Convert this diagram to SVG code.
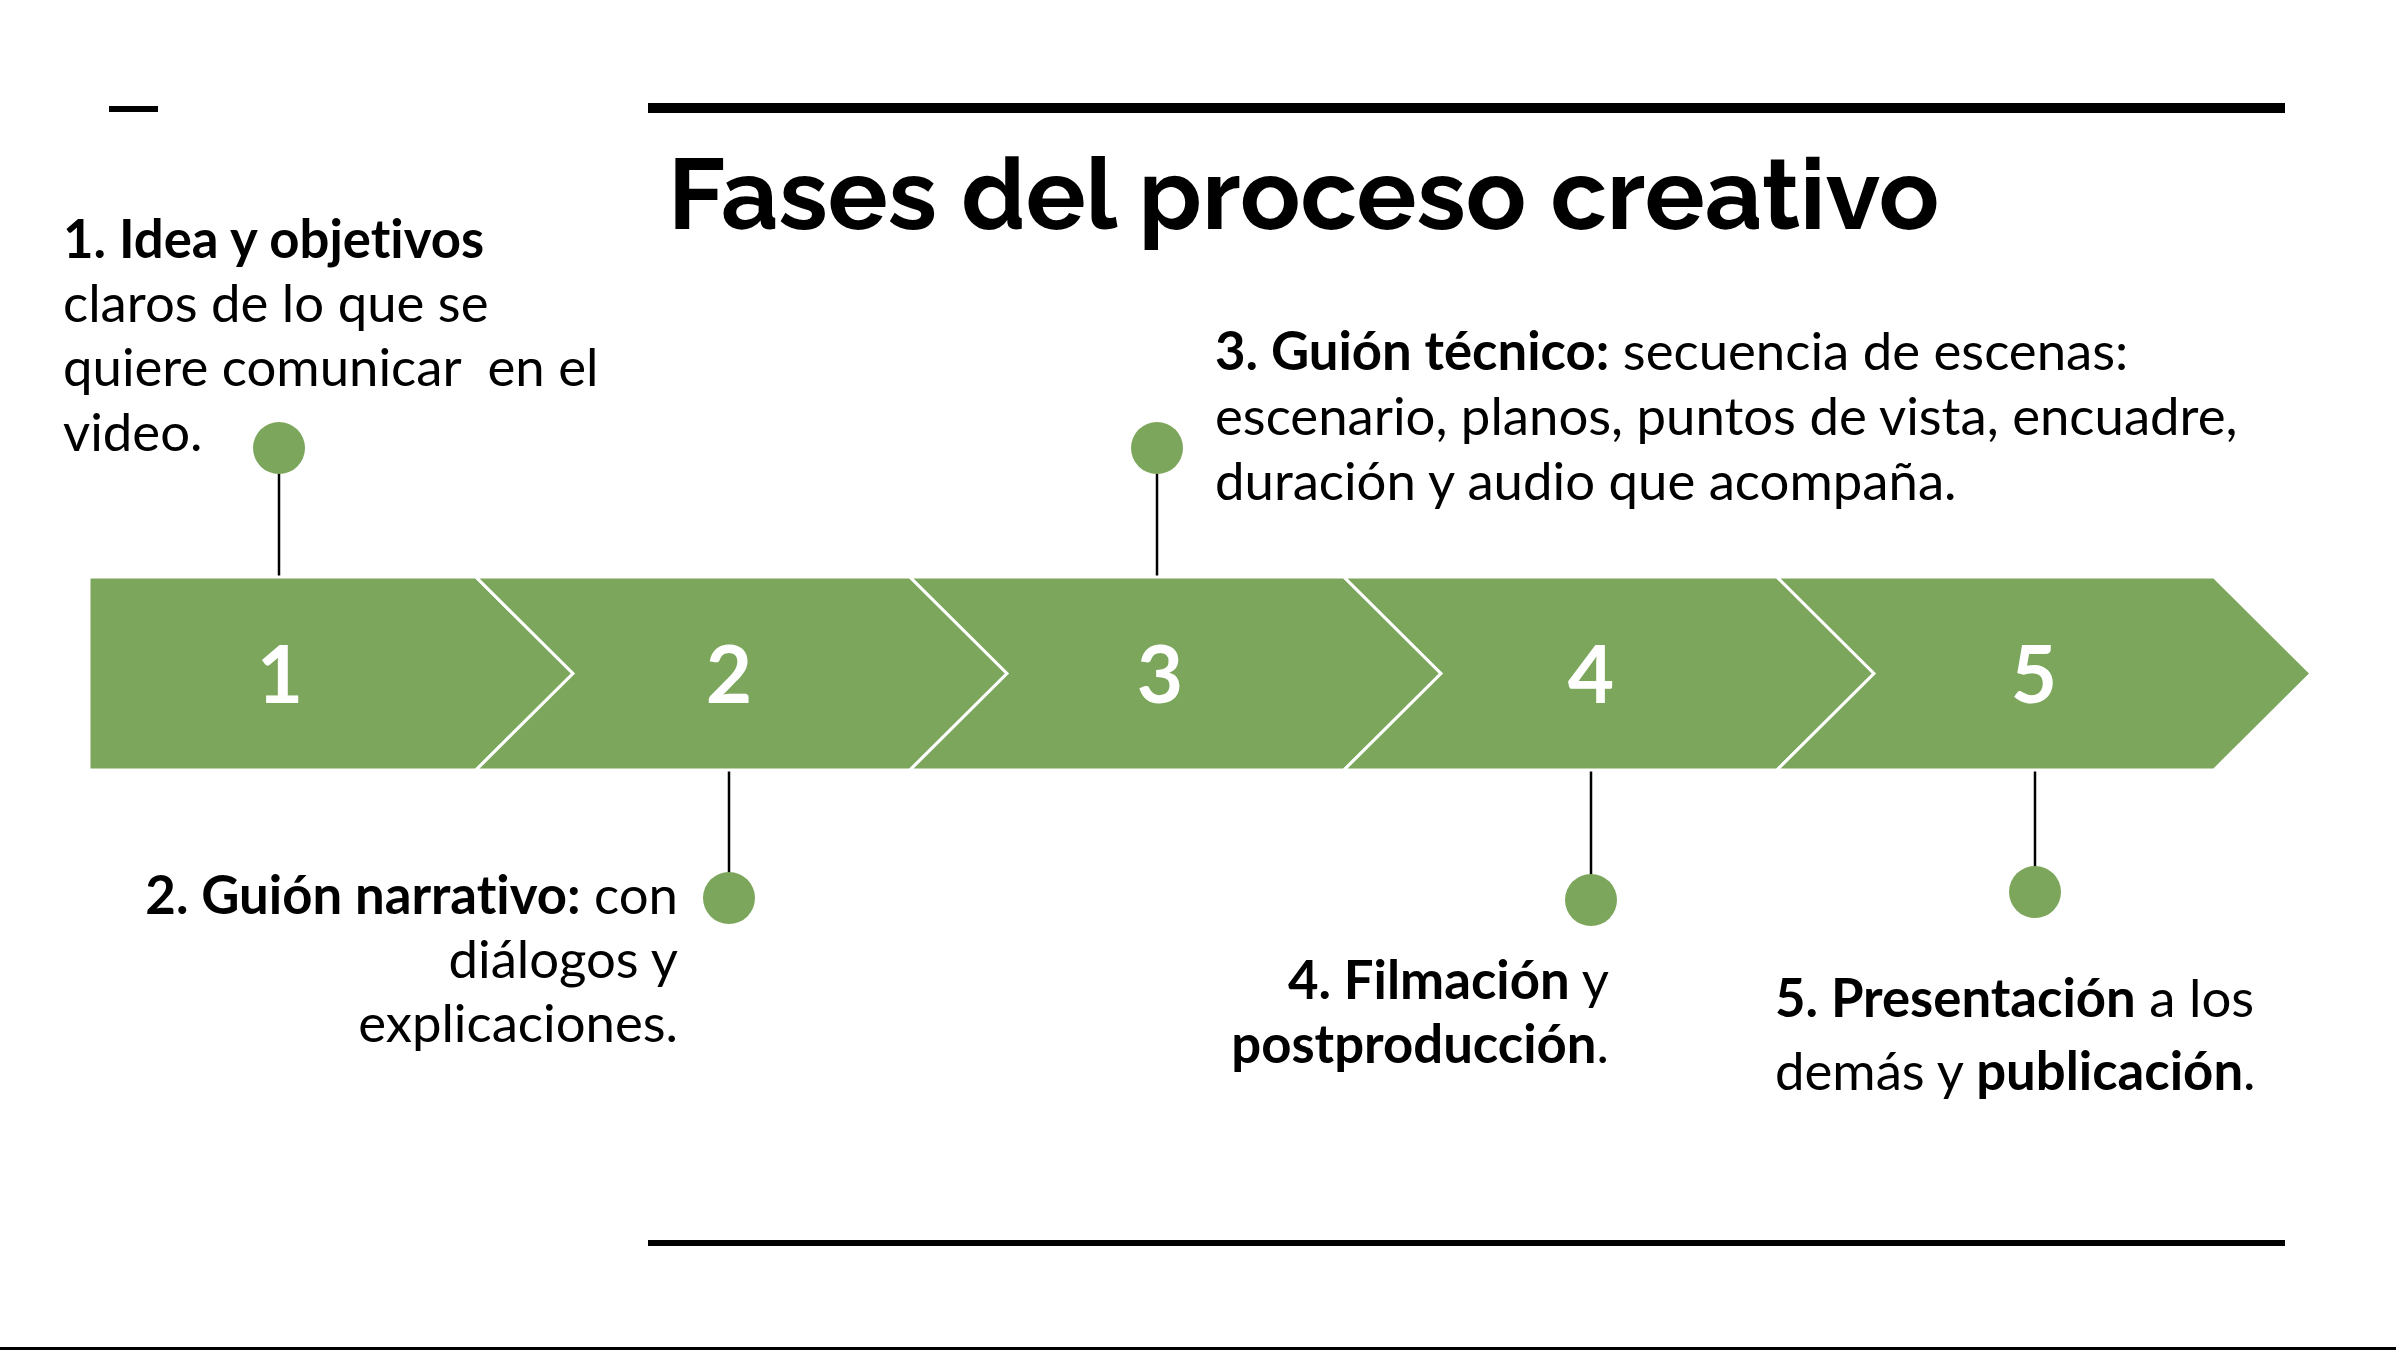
<svg xmlns="http://www.w3.org/2000/svg" width="2396" height="1350" viewBox="0 0 2396 1350">
<style>
.t{font-family:Lato,"Liberation Sans",sans-serif;font-size:52.7px;fill:#000;font-variant-ligatures:none;font-feature-settings:"liga" 0}
.b{font-weight:700}
.num{font-family:Lato,"Liberation Sans",sans-serif;font-size:80px;font-weight:700;fill:#fff;text-anchor:middle}
.chev{fill:#7BA65B;stroke:#fff;stroke-width:3;stroke-linejoin:miter}
.dot{fill:#7BA65B}
.conn{stroke:#000;stroke-width:2.5;fill:none}
</style>
<rect width="2396" height="1350" fill="#fff"/>
<rect x="109" y="106" width="49" height="6" fill="#000"/>
<rect x="648" y="103" width="1637" height="10" fill="#000"/>
<rect x="648" y="1240" width="1637" height="6" fill="#000"/>
<rect x="0" y="1347" width="2396" height="3" fill="#000"/>
<text x="668" y="229" font-family="Raleway,Lato,'Liberation Sans',sans-serif" font-size="100" font-weight="700" fill="#000">Fases del proceso creativo</text>
<g id="connectors">
<line class="conn" x1="279" y1="448" x2="279" y2="578"/>
<line class="conn" x1="1157" y1="448" x2="1157" y2="578"/>
<line class="conn" x1="729" y1="769" x2="729" y2="898"/>
<line class="conn" x1="1591" y1="769" x2="1591" y2="900"/>
<line class="conn" x1="2035" y1="762" x2="2035" y2="892"/>
</g>
<g id="step1">
<polygon class="chev" points="89,577 476,577 573,673.5 476,770 89,770"/>
<text class="num" x="280" y="703">1</text>
</g>
<g id="step2">
<polygon class="chev" points="476,577 910,577 1007,673.5 910,770 476,770 573,673.5"/>
<text class="num" x="729" y="703">2</text>
</g>
<g id="step3">
<polygon class="chev" points="910,577 1344,577 1441,673.5 1344,770 910,770 1007,673.5"/>
<text class="num" x="1160" y="703">3</text>
</g>
<g id="step4">
<polygon class="chev" points="1344,577 1777,577 1874,673.5 1777,770 1344,770 1441,673.5"/>
<text class="num" x="1591" y="703">4</text>
</g>
<g id="step5">
<polygon class="chev" points="1777,577 2214,577 2311,673.5 2214,770 1777,770 1874,673.5"/>
<text class="num" x="2034" y="703">5</text>
</g>
<g id="label1">
<circle class="dot" cx="279" cy="448" r="26"/>
<text class="t" x="63"><tspan class="b" x="63" y="258">1. Idea y objetivos</tspan><tspan x="63" y="322">claros de lo que se</tspan><tspan x="63" y="386" style="white-space:pre">quiere comunicar  en el</tspan><tspan x="63" y="451">video.</tspan></text>
</g>
<g id="label2">
<circle class="dot" cx="729" cy="898" r="26"/>
<text class="t" text-anchor="end"><tspan x="678" y="914"><tspan class="b">2. Guión narrativo:</tspan> con</tspan><tspan x="678" y="978">diálogos y</tspan><tspan x="678" y="1042">explicaciones.</tspan></text>
</g>
<g id="label3">
<circle class="dot" cx="1157" cy="448" r="26"/>
<text class="t"><tspan x="1215" y="370"><tspan class="b">3. Guión técnico:</tspan> secuencia de escenas:</tspan><tspan x="1215" y="435">escenario, planos, puntos de vista, encuadre,</tspan><tspan x="1215" y="500">duración y audio que acompaña.</tspan></text>
</g>
<g id="label4">
<circle class="dot" cx="1591" cy="900" r="26"/>
<text class="t" text-anchor="end"><tspan x="1609" y="999"><tspan class="b">4. Filmación</tspan> y</tspan><tspan x="1609" y="1063"><tspan class="b">postproducción</tspan>.</tspan></text>
</g>
<g id="label5">
<circle class="dot" cx="2035" cy="892" r="26"/>
<text class="t"><tspan x="1775" y="1017"><tspan class="b">5. Presentación</tspan> a los</tspan><tspan x="1775" y="1090">demás y <tspan class="b">publicación</tspan>.</tspan></text>
</g>
</svg>
